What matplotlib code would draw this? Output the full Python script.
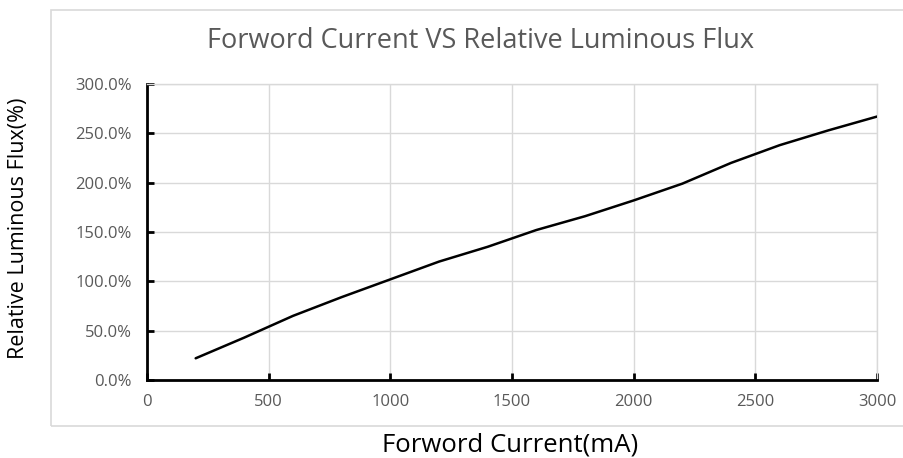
import matplotlib.pyplot as plt
from matplotlib.patches import Rectangle
from matplotlib.ticker import FuncFormatter

# forward current (mA) and relative luminous flux (%)
current = [200, 400, 600, 800, 1000, 1200, 1400, 1600, 1800, 2000, 2200, 2400, 2600, 2800, 3000]
flux = [22, 43, 65, 84, 102, 120, 135, 152, 166, 182, 199, 220, 238, 253, 267]

x_ticks = [0, 500, 1000, 1500, 2000, 2500, 3000]
y_ticks = [0, 50, 100, 150, 200, 250, 300]

plt.rcParams['font.family'] = ['Open Sans', 'DejaVu Sans']
gray = '#595959'
grid = '#d9d9d9'

fig = plt.figure(figsize=(9.04, 4.58), dpi=100)
fig.patches.append(Rectangle((51 / 904, 1 - 426 / 458), 1.0, 416 / 458, transform=fig.transFigure,
                             fill=False, edgecolor=grid, lw=1.2))
ax = fig.add_axes([147 / 904, 1 - 380 / 458, 730 / 904, 296 / 458])

ax.plot(current, flux, color='black', lw=1.8, solid_joinstyle='round', solid_capstyle='round', zorder=3)

ax.set_xlim(0, 3000)
ax.set_ylim(0, 300)
ax.set_xticks(x_ticks)
ax.set_yticks(y_ticks)
ax.yaxis.set_major_formatter(FuncFormatter(lambda v, p: f'{v:.1f}%'))
ax.grid(True, color=grid, lw=1)
ax.set_axisbelow(True)

for s in ['top', 'right']:
    ax.spines[s].set_color(grid)
    ax.spines[s].set_linewidth(1)
for s in ['left', 'bottom']:
    ax.spines[s].set_color('black')
    ax.spines[s].set_linewidth(2)
ax.tick_params(direction='in', length=5, width=2, color='black', labelcolor=gray, labelsize=12)
ax.tick_params(axis='y', pad=11)
ax.tick_params(axis='x', pad=10)

fig.text(0.532, 0.910, 'Forword Current VS Relative Luminous Flux', ha='center', va='center',
         fontsize=19.5, color=gray)
fig.text(0.021, 0.502, 'Relative Luminous Flux(%)', rotation=90, ha='center', va='center',
         fontsize=15.5, color='black')
fig.text(0.564, 0.028, 'Forword Current(mA)', ha='center', va='center', fontsize=18.5, color='black')

fig.savefig('out.png', dpi=100)
